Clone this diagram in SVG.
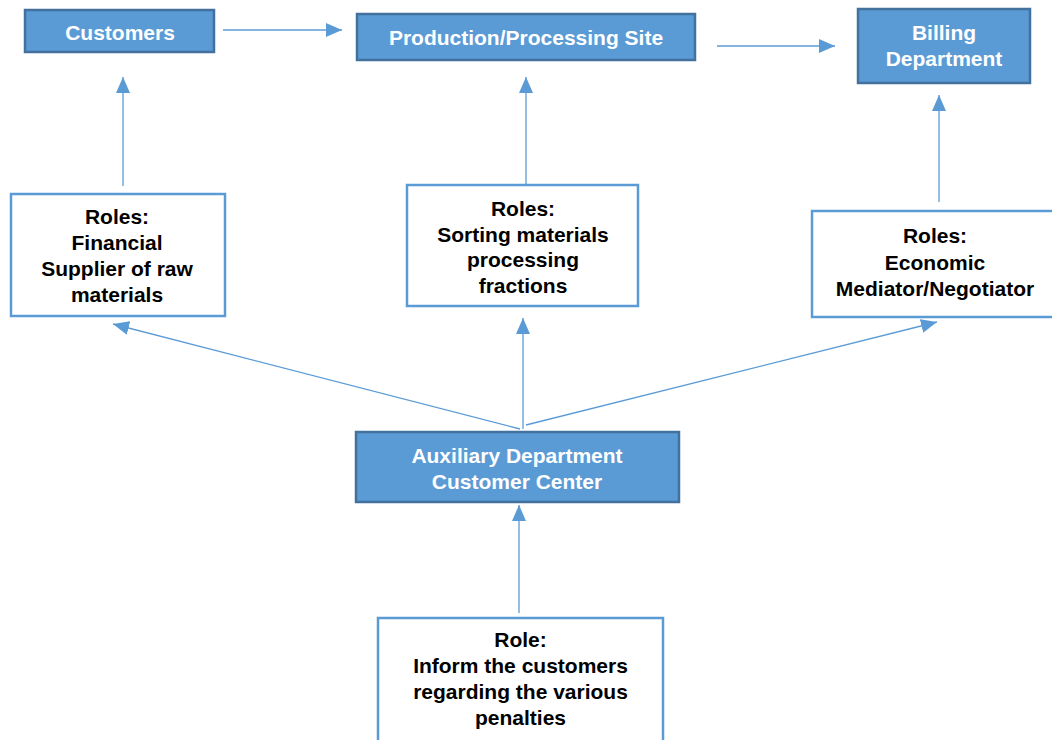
<svg xmlns="http://www.w3.org/2000/svg" width="1052" height="740" viewBox="0 0 1052 740">
  <style>
    .solid { fill: #5B9BD5; stroke: #41719C; stroke-width: 2.5; }
    .plain { fill: #FFFFFF; stroke: #5B9BD5; stroke-width: 2.5; }
    .lbl { font-family: "Liberation Sans", Arial, sans-serif; font-size: 21px; font-weight: bold; text-anchor: middle; }
    .w { fill: #FFFFFF; }
    .k { fill: #000000; }
    .edge { stroke: #5B9BD5; stroke-width: 1.3; fill: none; marker-end: url(#head); }
  </style>
  <defs>
    <marker id="head" markerUnits="userSpaceOnUse" markerWidth="16" markerHeight="14" refX="16" refY="7" orient="auto">
      <path d="M0,0 L16,7 L0,14 Z" fill="#5B9BD5"/>
    </marker>
  </defs>
  <rect width="1052" height="740" fill="#FFFFFF"/>

  <g id="connectors">
    <line class="edge" x1="223" y1="30" x2="342" y2="30"/>
    <line class="edge" x1="717" y1="46" x2="835" y2="46"/>
    <line class="edge" x1="123" y1="186" x2="123" y2="77"/>
    <line class="edge" x1="526" y1="184" x2="526" y2="77"/>
    <line class="edge" x1="939" y1="202" x2="939" y2="95"/>
    <line class="edge" x1="520" y1="429" x2="113" y2="324"/>
    <line class="edge" x1="523" y1="429" x2="523" y2="318"/>
    <line class="edge" x1="526" y1="425" x2="937" y2="322"/>
    <line class="edge" x1="519" y1="613" x2="519" y2="505"/>
  </g>

  <g id="customers">
    <rect class="solid" x="25" y="10" width="189" height="42"/>
    <text class="lbl w" x="120" y="40">Customers</text>
  </g>

  <g id="production">
    <rect class="solid" x="357" y="14" width="338" height="46"/>
    <text class="lbl w" x="526" y="45">Production/Processing Site</text>
  </g>

  <g id="billing">
    <rect class="solid" x="858" y="9" width="172" height="74"/>
    <text class="lbl w" x="944" y="40">Billing</text>
    <text class="lbl w" x="944" y="66">Department</text>
  </g>

  <g id="roles-financial">
    <rect class="plain" x="11" y="194" width="214" height="122"/>
    <text class="lbl k" x="117" y="224">Roles:</text>
    <text class="lbl k" x="117" y="250">Financial</text>
    <text class="lbl k" x="117" y="276">Supplier of raw</text>
    <text class="lbl k" x="117" y="302">materials</text>
  </g>

  <g id="roles-sorting">
    <rect class="plain" x="407" y="185" width="231" height="121"/>
    <text class="lbl k" x="523" y="216">Roles:</text>
    <text class="lbl k" x="523" y="241.5">Sorting materials</text>
    <text class="lbl k" x="523" y="267">processing</text>
    <text class="lbl k" x="523" y="292.5">fractions</text>
  </g>

  <g id="roles-economic">
    <rect class="plain" x="812" y="211" width="245" height="106"/>
    <text class="lbl k" x="935" y="243">Roles:</text>
    <text class="lbl k" x="935" y="269.5">Economic</text>
    <text class="lbl k" x="935" y="296">Mediator/Negotiator</text>
  </g>

  <g id="auxiliary">
    <rect class="solid" x="356" y="432" width="323" height="70"/>
    <text class="lbl w" x="517" y="463">Auxiliary Department</text>
    <text class="lbl w" x="517" y="489">Customer Center</text>
  </g>

  <g id="role-inform">
    <rect class="plain" x="378" y="618" width="285" height="130"/>
    <text class="lbl k" x="520.5" y="647">Role:</text>
    <text class="lbl k" x="520.5" y="673">Inform the customers</text>
    <text class="lbl k" x="520.5" y="699">regarding the various</text>
    <text class="lbl k" x="520.5" y="725">penalties</text>
  </g>
</svg>
